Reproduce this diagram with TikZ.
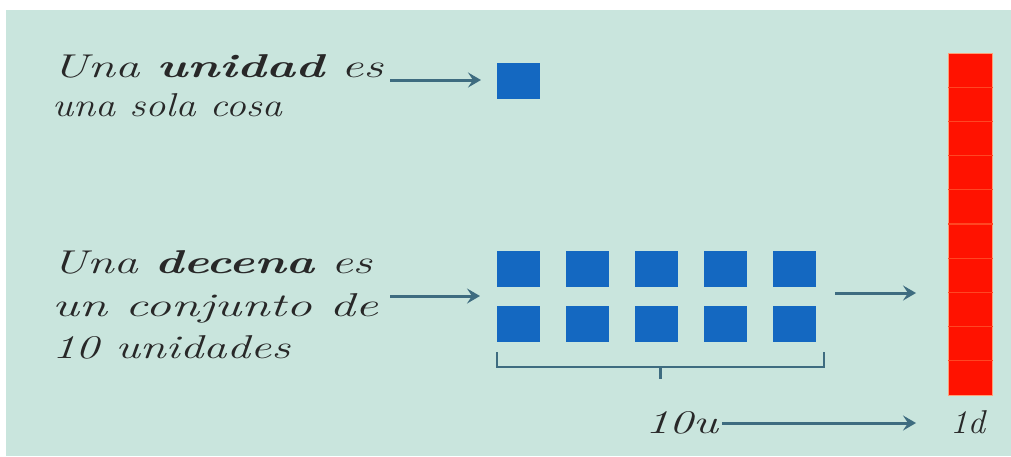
\documentclass[tikz,border=0pt]{standalone}
\usepackage{graphicx}
\usetikzlibrary{arrows.meta,calc}
\definecolor{bg}{RGB}{201,229,221}
\definecolor{ublue}{RGB}{20,104,193}
\definecolor{dred}{RGB}{255,18,0}
\definecolor{dline}{RGB}{255,70,35}
\definecolor{arrc}{RGB}{62,108,128}
\definecolor{txt}{RGB}{40,40,40}
\newcommand{\cw}[2]{\resizebox{#1pt}{\height}{\fontsize{33}{33}\selectfont\itshape #2}}
\tikzset{
  unitbox/.style={fill=ublue, draw=none, minimum width=43pt, minimum height=36pt, inner sep=0pt, outer sep=0pt},
  arr/.style={draw=arrc, line width=3pt, -{Stealth[length=13pt,width=15pt,inset=5pt]}},
  lbl/.style={anchor=base west, inner sep=0pt, outer sep=0pt, text=txt},
  brace/.style={draw=arrc, line width=2.2pt}
}
\begin{document}
\begin{tikzpicture}[x=1pt,y=-1pt]
\useasboundingbox (0,0) rectangle (1011,456);
\fill[white] (0,0) rectangle (1011,456);
\fill[bg] (6,10) rectangle (1011,456);
% texts
\node[lbl] (t1) at (52,77) {\cw{331}{Una \textbf{unidad} es}};
\node[lbl] (t2) at (52,116) {\cw{230}{una sola cosa}};
\node[lbl] (t3) at (52,273) {\cw{320}{Una \textbf{decena} es}};
\node[lbl] (t4) at (52,316) {\cw{326}{un conjunto de}};
\node[lbl] (t5) at (52,358) {\cw{238}{10 unidades}};
\node[lbl] (t6) at (645,433) {\cw{73}{10u}};
\node[lbl] (t7) at (950,433) {\cw{35}{1d}};
% unit
\node[unitbox, anchor=north west] (u) at (497,63) {};
% grid
\foreach \c [count=\i] in {497,566,635,704,773}{
  \node[unitbox, anchor=north west] (g1\i) at (\c,251) {};
  \node[unitbox, anchor=north west] (g2\i) at (\c,306) {};
}
% red bar
\node[fill=dred, draw={rgb,255:red,255;green,160;blue,120}, line width=0.8pt, minimum width=44pt, minimum height=342pt, inner sep=0pt, anchor=north west] (bar) at (948,53) {};
\foreach \k in {1,...,9}{
  \draw[dline, line width=1.2pt] ([yshift=-\k*34.2pt]bar.north west) -- ([yshift=-\k*34.2pt]bar.north east);
}
% arrows
\coordinate (s1) at (390,80);
\draw[arr, shorten >=16pt] (s1) -- (u.west |- s1);
\coordinate (s2) at (390,296);
\draw[arr, shorten >=17pt] (s2) -- (g11.west |- s2);
\coordinate (s3) at (835,293);
\draw[arr, shorten >=32pt] (s3) -- (bar.west |- s3);
\coordinate (s4) at (722,423);
\coordinate (e4) at (950,423);
\draw[arr, shorten >=34pt] (s4) -- (e4);
% brace
\coordinate (bl) at (497,352);
\coordinate (br) at (824,352);
\draw[brace] (bl) -- ++(0,15) -- ($(br)+(0,15)$) -- (br);
\draw[brace] (660.5,367) -- (660.5,379);
\end{tikzpicture}
\end{document}
